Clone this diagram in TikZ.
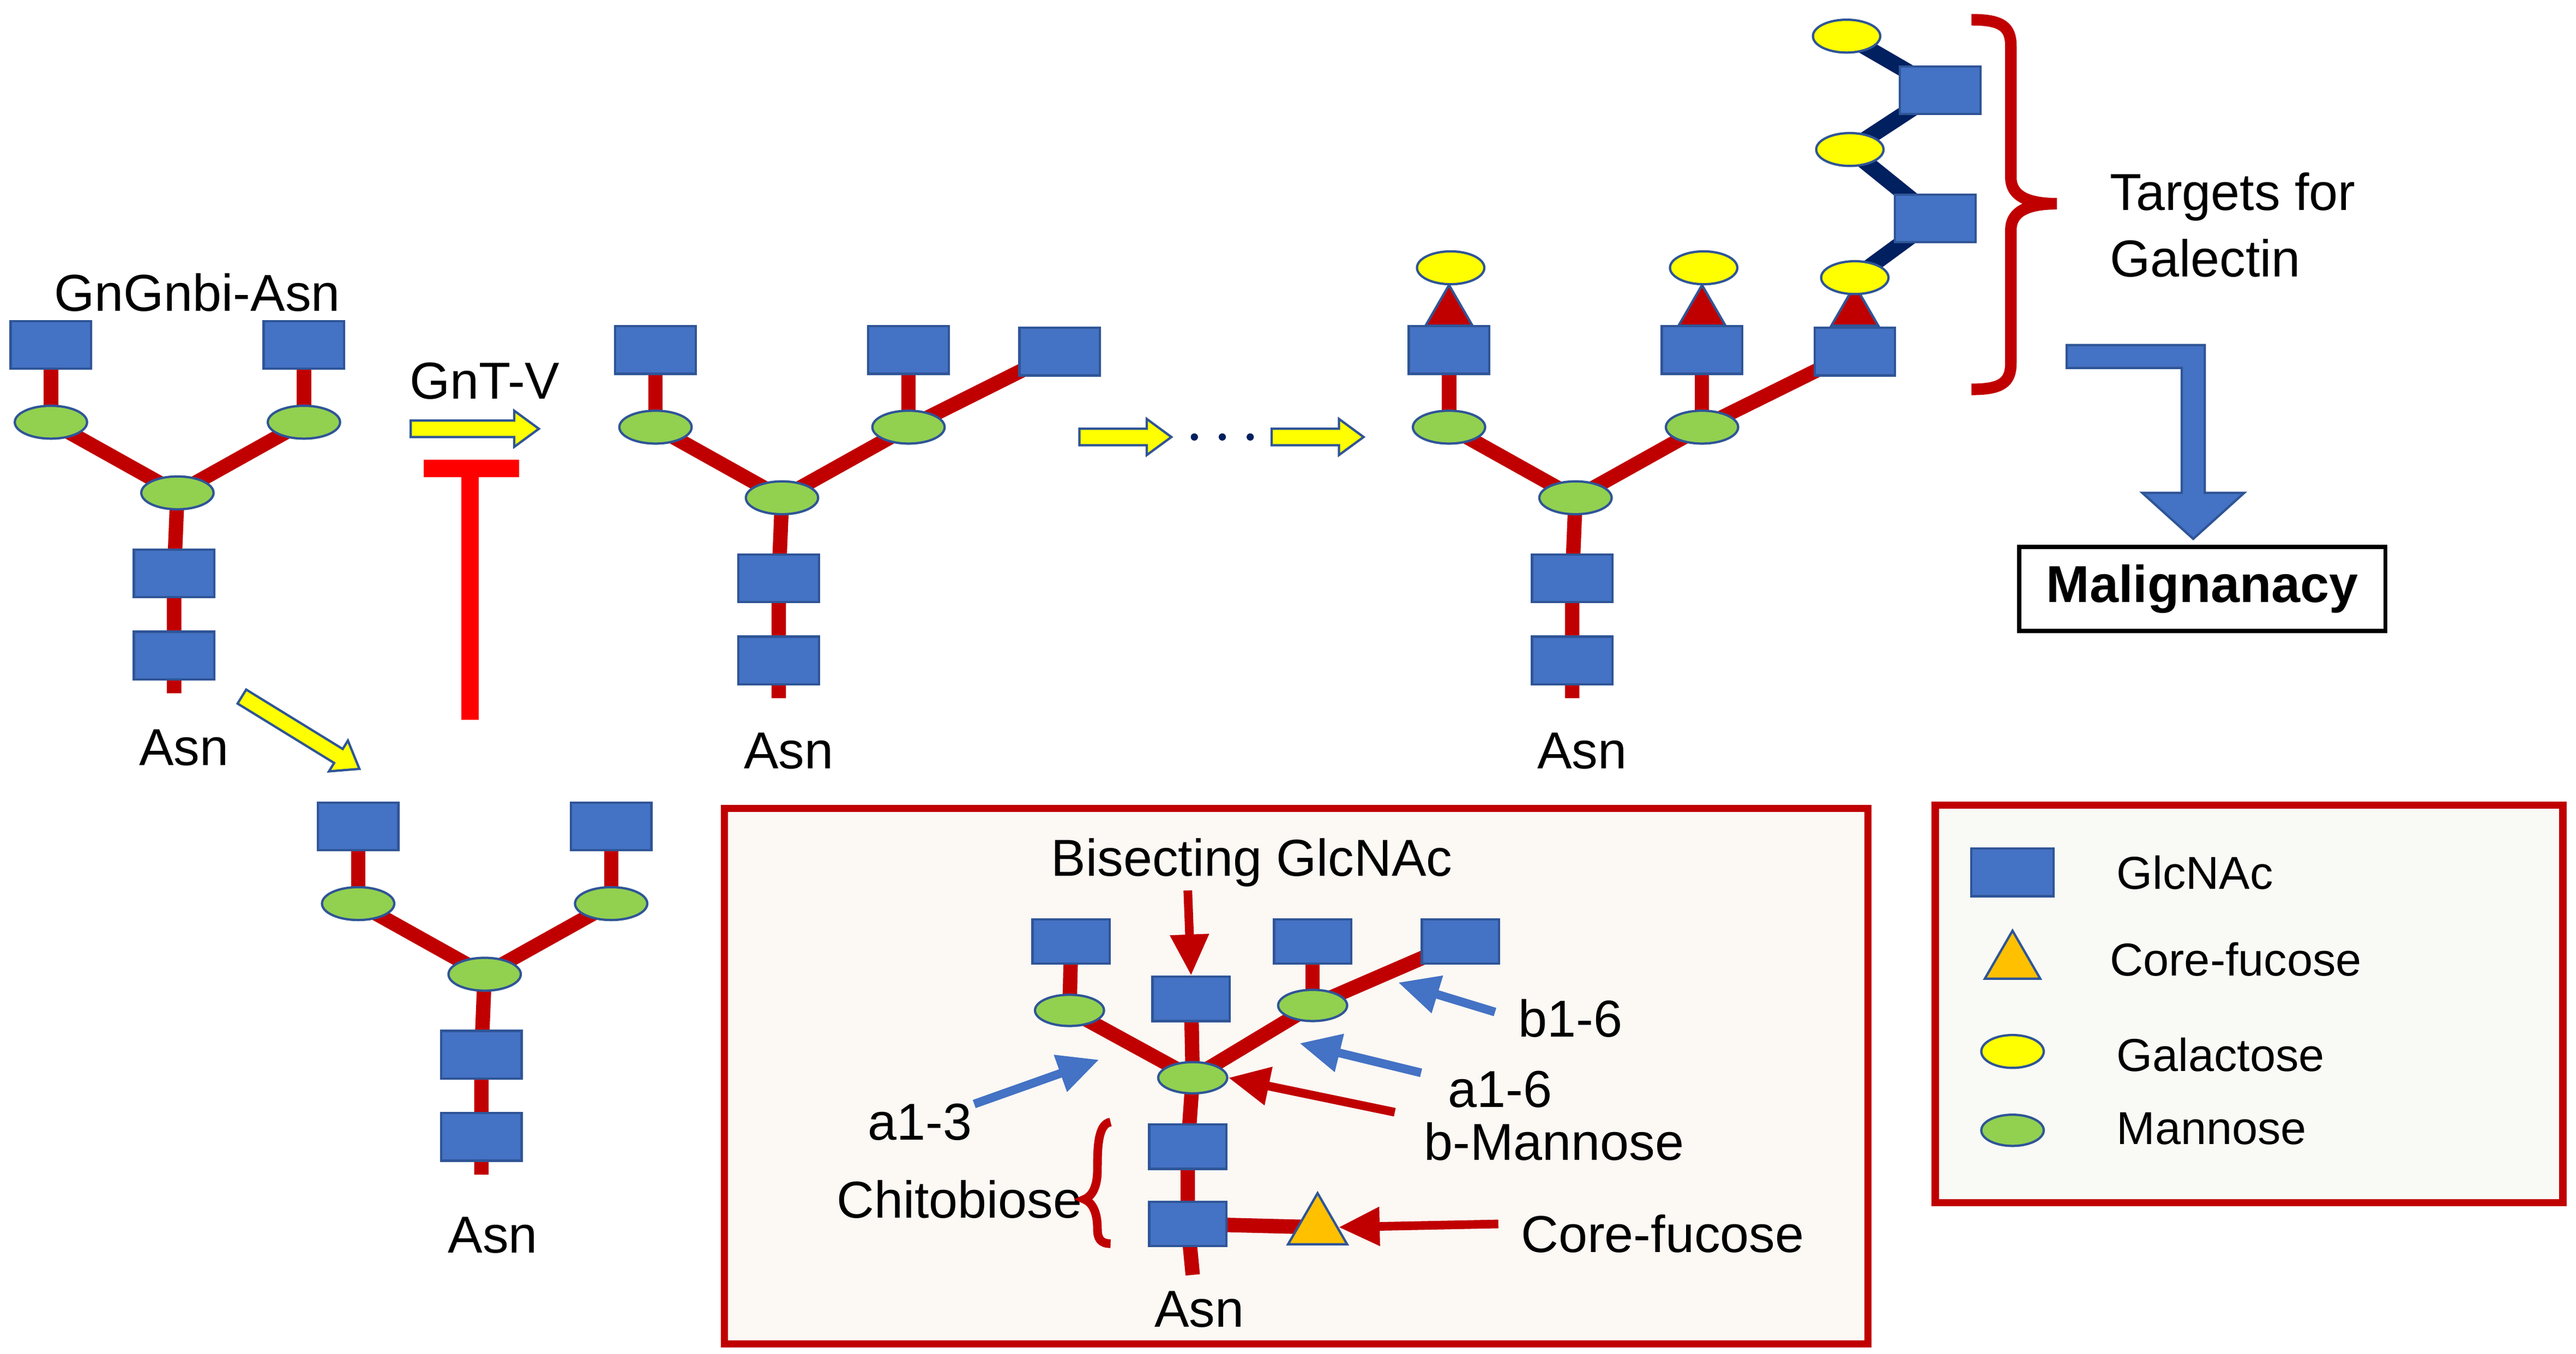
\documentclass[tikz,border=0pt]{standalone}
\usepackage{fontspec}
\setmainfont{Liberation Sans}
\usetikzlibrary{shapes.geometric,arrows.meta}
\pgfdeclarelayer{back}\pgfdeclarelayer{bg}
\pgfsetlayers{back,bg,main}
\definecolor{cred}{HTML}{C00000}
\definecolor{cblue}{HTML}{4472C4}
\definecolor{cbord}{HTML}{2F5597}
\definecolor{cgreen}{HTML}{92D050}
\definecolor{cyel}{HTML}{FFFF00}
\definecolor{cnavy}{HTML}{002060}
\definecolor{corange}{HTML}{FFC000}
\newcommand{\yarr}[3]{% centre, rotation, length
 \draw[draw=cbord,line width=0.8pt,fill=cyel,shift={(#1)},rotate=#2]
  (-#3/2,-5)--(#3/2-15,-5)--(#3/2-15,-11)--(#3/2,0)--(#3/2-15,11)--(#3/2-15,5)--(-#3/2,5)--cycle;}
\tikzset{
 glc/.style={rectangle,draw=cbord,line width=0.8pt,fill=cblue,minimum width=0.98cm,minimum height=0.58cm,inner sep=0},
 glcs/.style={glc,minimum width=0.94cm,minimum height=0.54cm},
 man/.style={ellipse,draw=cbord,line width=0.8pt,fill=cgreen,minimum width=0.88cm,minimum height=0.4cm,inner sep=0},
 mans/.style={man,minimum width=0.84cm,minimum height=0.38cm},
 gal/.style={ellipse,draw=cbord,line width=0.8pt,fill=cyel,minimum width=0.82cm,minimum height=0.4cm,inner sep=0},
 tri/.style={regular polygon,regular polygon sides=3,draw=cbord,line width=0.8pt,fill=cred,minimum size=0.66cm,inner sep=0},
 fuc/.style={tri,fill=corange,minimum size=0.83cm},
 bond/.style={draw=cred,line width=5pt},
 nbond/.style={draw=cnavy,line width=5.5pt},
 lbl/.style={font=\fontsize{18}{21}\selectfont,inner sep=0},
 lgd/.style={font=\fontsize{16}{19}\selectfont,inner sep=0,anchor=west},
 redarr/.style={draw=cred,line width=3pt,-{Triangle[length=0.5cm,width=0.45cm]}},
 bluearr/.style={draw=cblue,line width=3pt,-{Triangle[length=0.5cm,width=0.45cm]}},
 glycan/.pic={
  \node[glc] (-gl) at (-77,-90) {};
  \node[glc] (-gr) at (77,-90) {};
  \node[man] (-ml) at (-77,-43) {};
  \node[man] (-mr) at (77,-43) {};
  \node[man] (-c) at (0,0) {};
  \node[glc] (-s1) at (-2,49) {};
  \node[glc] (-s2) at (-2,99) {};
  \coordinate (-end) at (-2,122);
  \begin{pgfonlayer}{bg}
   \draw[bond] (-gl.center)--(-ml.center);
   \draw[bond] (-gr.center)--(-mr.center);
   \draw[bond] (-ml.center)--(-c.center)--(-mr.center);
   \draw[bond] (-c.center)--(-s1.center)--(-s2.center)--(-end);
  \end{pgfonlayer}
 }
}
\begin{document}
\begin{tikzpicture}[x=0.02cm,y=-0.02cm]
\useasboundingbox (0,0) rectangle (1568,824);
% structure 1
\pic (g1) at (108,300) {glycan};
\node[lbl] (asn1) at (112,455) {Asn};
\node[lbl] (t1) at (120,178) {GnGnbi-Asn};
% structure 2
\pic (g2) at (295,593) {glycan};
\node[lbl] (asn2) at (300,752) {Asn};
% structure 3
\pic (g3) at (476,303) {glycan};
\node[glc] (g3x) at (645,214) {};
\begin{pgfonlayer}{bg}\draw[bond] (g3-mr.center)--(g3x.center);\end{pgfonlayer}
\node[lbl] (asn3) at (480,457) {Asn};
% structure 4
\pic (g4) at (959,303) {glycan};
\node[glc] (g4x) at (1129,214) {};
\begin{pgfonlayer}{bg}\draw[bond] (g4-mr.center)--(g4x.center);\end{pgfonlayer}
\node[lbl] (asn4) at (963,457) {Asn};
\node[tri] (tr1) at (882,190) {};
\node[tri] (tr2) at (1036,190) {};
\node[tri] (tr3) at (1129,190) {};
\node[gal] (ga1) at (883,163) {};
\node[gal] (ga2) at (1037,163) {};
\node[gal] (ga3) at (1129,169) {};
\node[glc] (n1) at (1178,133) {};
\node[gal] (ga4) at (1126,91) {};
\node[glc] (n2) at (1181,55) {};
\node[gal] (ga5) at (1124,22) {};
\begin{pgfonlayer}{bg}
\draw[nbond] (ga3.center)--(n1.center)--(ga4.center)--(n2.center)--(ga5.center);
\end{pgfonlayer}
% GnT-V, inhibition
\node[lbl] (gnt) at (295,232) {GnT-V};
\yarr{289,261}{0}{78}
\coordinate (ia) at (258,285); \coordinate (ib) at (316,285);
\coordinate (ic) at (286,285); \coordinate (id) at (286,438);
\draw[draw=red,line width=6pt] (ia)--(ib);
\draw[draw=red,line width=6pt] (ic)--(id);
\yarr{183,446}{-31.6}{84}
% middle arrows and dots
\yarr{685,266}{0}{56}
\yarr{802,266}{0}{56}
\foreach \i/\xx in {1/727,2/744,3/761}{\fill[cnavy] (\xx,266) circle (2.2);}
% targets brace
\draw[cred,line width=4pt] (1200,12) .. controls (1218,12) and (1224,16) .. (1224,28) -- (1224,108) .. controls (1224,118) and (1232,124) .. (1252,124)
  (1200,237) .. controls (1218,237) and (1224,233) .. (1224,221) -- (1224,140) .. controls (1224,130) and (1232,124) .. (1252,124);
\node[lbl,anchor=west,align=left] (tg) at (1284,137) {Targets for\\[2pt]Galectin};
% blue bent arrow
\draw[cbord,fill=cblue,line width=0.8pt] (1258,210)--(1342,210)--(1342,300)--(1366,300)--(1335,328)--(1304,300)--(1328,300)--(1328,224)--(1258,224)--cycle;
\node[draw=black,line width=1.5pt,minimum width=4.46cm,minimum height=1.02cm,inner sep=0,font=\fontsize{18}{21}\selectfont\bfseries] (mal) at (1340.5,358.5) {Malignanacy};
% inset box
\begin{pgfonlayer}{back}
\draw[cred,line width=2.5pt,fill={rgb,255:red,252;green,248;blue,244}] (441,492) rectangle (1137,818);
\draw[cred,line width=2.5pt,fill={rgb,255:red,249;green,250;blue,246}] (1178,490) rectangle (1560,732);
\end{pgfonlayer}
\node[lbl] (bis) at (762,525) {Bisecting GlcNAc};
\node[glcs] (i1) at (652,573) {};
\node[glcs] (i2) at (799,573) {};
\node[glcs] (i3) at (889,573) {};
\node[glcs] (ib) at (725,608) {};
\node[mans] (im1) at (651,615) {};
\node[mans] (im2) at (799,612) {};
\node[mans] (ic) at (726,656) {};
\node[glcs] (is1) at (723,698) {};
\node[glcs] (is2) at (723,745) {};
\node[fuc] (ifu) at (802,747) {};
\coordinate (iend) at (726,776);
\begin{pgfonlayer}{bg}
\draw[bond] (i1.center)--(im1.center);
\draw[bond] (i2.center)--(im2.center);
\draw[bond] (im2.center)--(i3.center);
\draw[bond] (im1.center)--(ic.center)--(im2.center);
\draw[bond] (ib.center)--(ic.center)--(is1.center)--(is2.center)--(iend);
\draw[bond] (is2.center)--(ifu.center);
\end{pgfonlayer}
\node[lbl] (iasn) at (730,797) {Asn};
\coordinate (bisT) at (723,542); \draw[redarr] (bisT)--(ib.north);
\node[lbl] (b16) at (956,620) {b1-6};
\node[lbl] (a16) at (913,663) {a1-6};
\node[lbl] (bman) at (946,695) {b-Mannose};
\node[lbl] (a13) at (560,683) {a1-3};
\node[lbl] (chit) at (584,730) {Chitobiose};
\node[lbl] (cf) at (1012,751) {Core-fucose};
\coordinate (p1) at (910,616); \coordinate (q1) at (851,598); \draw[bluearr] (p1)--(q1);
\coordinate (p2) at (865,653); \coordinate (q2) at (791,635); \draw[bluearr] (p2)--(q2);
\coordinate (p3) at (593,672); \coordinate (q3) at (669,645); \draw[bluearr] (p3)--(q3);
\coordinate (p4) at (849,677); \draw[redarr] (p4)--(ic.east);
\coordinate (p5) at (912,745); \draw[redarr] (p5)--(ifu.east);
\draw[cred,line width=3pt] (676,683) .. controls (668,684) and (668,700) .. (668,712) .. controls (668,722) and (665,728) .. (660,730) .. controls (665,732) and (668,738) .. (668,748) .. controls (668,754) and (670,757) .. (676,757);
% legend
\node[glc,minimum width=1cm] (lg1) at (1225,531) {};
\node[fuc,minimum size=0.78cm] (lg2) at (1225,586) {};
\node[gal,minimum width=0.76cm,minimum height=0.4cm] (lg3) at (1225,640) {};
\node[man,minimum width=0.76cm,minimum height=0.38cm] (lg4) at (1225,688) {};
\node[lgd] (lt1) at (1288,531) {GlcNAc};
\node[lgd] (lt2) at (1284,584) {Core-fucose};
\node[lgd] (lt3) at (1288,642) {Galactose};
\node[lgd] (lt4) at (1288,687) {Mannose};
\end{tikzpicture}
\end{document}
